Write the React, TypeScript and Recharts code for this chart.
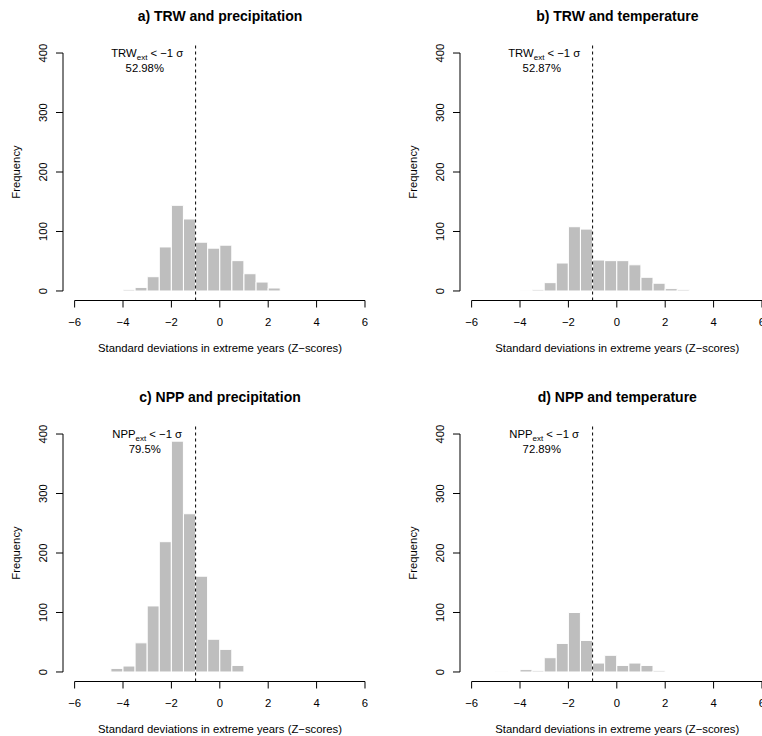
import React from "react";
import { BarChart, Bar, XAxis, YAxis, ReferenceLine, ReferenceDot } from "recharts";

// histogram bins of width 0.5 (mid points), from -5 to 3
const binMids = [-4.75, -4.25, -3.75, -3.25, -2.75, -2.25, -1.75, -1.25, -0.75, -0.25, 0.25, 0.75, 1.25, 1.75, 2.25, 2.75];

const trwPrecip = [0, 0, 2, 6, 24, 74, 144, 121, 82, 72, 77, 51, 29, 15, 5, 0];
const trwTemp = [0, 0, 1, 2, 14, 47, 108, 104, 52, 51, 51, 44, 23, 13, 4, 2];
const nppPrecip = [0, 6, 10, 49, 111, 219, 388, 266, 161, 55, 38, 11, 0, 0, 0, 0];
const nppTemp = [1, 0, 4, 2, 24, 48, 100, 53, 15, 28, 11, 15, 11, 2, 0, 0];

const titles = ["a) TRW and precipitation", "b) TRW and temperature", "c) NPP and precipitation", "d) NPP and temperature"];
const variables = ["TRW", "TRW", "NPP", "NPP"];
const shares = ["52.98%", "52.87%", "79.5%", "72.89%"];
const counts = [trwPrecip, trwTemp, nppPrecip, nppTemp];

const xTicks = [-6, -4, -2, 0, 2, 4, 6];
const yTicks = [0, 100, 200, 300, 400];
const threshold = -1;

const FONT = '"Liberation Sans", Arial, Helvetica, sans-serif';
const FS = 11.3;

// R style: xlim/ylim padded by 4%
const X_DOMAIN = [-6.48, 6.48];
const Y_DOMAIN = [-16, 416];

const PANEL_W = 381;
const PANEL_H = 368;
const panelPos = [
  { left: 0, top: 0 },
  { left: 397.3, top: 0 },
  { left: 0, top: 381.3 },
  { left: 397.3, top: 381.3 },
];

const fmtMinus = (v: number) => (v < 0 ? "\u2212" + Math.abs(v) : String(v));

const YTick = (props: any) => {
  const { x, y, payload } = props;
  return (
    <text
      x={x}
      y={y}
      transform={`rotate(-90, ${x}, ${y})`}
      textAnchor="middle"
      fontSize={FS}
      fontFamily={FONT}
      fill="#000"
    >
      {payload.value}
    </text>
  );
};

function Panel({ idx }: { idx: number }) {
  const data = binMids.map((mid, i) => ({ mid, count: counts[idx][i] }));
  const pos = panelPos[idx];
  const v = variables[idx];

  return (
    <div style={{ position: "absolute", left: pos.left, top: pos.top, width: PANEL_W, height: PANEL_H }}>
      <div
        style={{
          position: "absolute",
          left: 70,
          top: 9,
          width: 300,
          textAlign: "center",
          fontSize: 14,
          lineHeight: "14px",
          fontWeight: "bold",
        }}
      >
        {titles[idx]}
      </div>
      <div
        style={{
          position: "absolute",
          left: 16 - 100,
          top: 172 - 7,
          width: 200,
          textAlign: "center",
          fontSize: FS,
          lineHeight: "14px",
          transform: "rotate(-90deg)",
        }}
      >
        Frequency
      </div>
      <div
        style={{
          position: "absolute",
          left: 70,
          top: 348 - 7,
          width: 300,
          textAlign: "center",
          fontSize: FS,
          lineHeight: "14px",
          whiteSpace: "nowrap",
        }}
      >
        Standard deviations in extreme years (Z{"\u2212"}scores)
      </div>
      <BarChart
        width={PANEL_W}
        height={PANEL_H}
        data={data}
        barCategoryGap={0}
        margin={{ top: 43.5, right: 4.4, bottom: 0, left: 0 }}
        style={{ position: "absolute", left: 0, top: 0 }}
      >
        <XAxis
          type="number"
          dataKey="mid"
          domain={X_DOMAIN}
          allowDataOverflow
          ticks={xTicks}
          interval={0}
          height={67.5}
          axisLine={false}
          tickSize={7}
          tickMargin={10.5}
          tickLine={{ stroke: "#000" }}
          tick={{ fill: "#000", fontSize: FS, fontFamily: FONT }}
          tickFormatter={fmtMinus}
        />
        <YAxis
          type="number"
          domain={Y_DOMAIN}
          allowDataOverflow
          ticks={yTicks}
          interval={0}
          width={63}
          axisLine={false}
          tickSize={7}
          tickMargin={9}
          tickLine={{ stroke: "#000" }}
          tick={<YTick />}
        />
        <Bar dataKey="count" fill="#BEBEBE" stroke="#FFFFFF" strokeWidth={1} isAnimationActive={false} />
        <ReferenceLine
          segment={[{ x: X_DOMAIN[0], y: 0 }, { x: X_DOMAIN[0], y: 400 }]}
          stroke="#000"
          strokeWidth={1}
          ifOverflow="visible"
        />
        <ReferenceLine
          segment={[{ x: -6, y: Y_DOMAIN[0] }, { x: 6, y: Y_DOMAIN[0] }]}
          stroke="#000"
          strokeWidth={1}
          ifOverflow="visible"
        />
        <ReferenceLine x={threshold} stroke="#000" strokeWidth={1} strokeDasharray="3 3" />
        <ReferenceDot
          x={-3}
          y={400}
          r={1}
          fill="none"
          stroke="none"
          label={{
            content: (p: any) => (
              <text
                x={p.viewBox.x + p.viewBox.width / 2}
                y={p.viewBox.y + p.viewBox.height / 2 + 4}
                textAnchor="middle"
                fontSize={FS}
                fontFamily={FONT}
                fill="#000"
              >
                {v}
                <tspan fontSize={8} dy={3}>ext</tspan>
                <tspan dy={-3}>{" < \u22121 \u03c3"}</tspan>
              </text>
            ),
          }}
        />
        <ReferenceDot
          x={-3.1}
          y={375}
          r={1}
          fill="none"
          stroke="none"
          label={{
            content: (p: any) => (
              <text
                x={p.viewBox.x + p.viewBox.width / 2}
                y={p.viewBox.y + p.viewBox.height / 2 + 4}
                textAnchor="middle"
                fontSize={FS}
                fontFamily={FONT}
                fill="#000"
              >
                {shares[idx]}
              </text>
            ),
          }}
        />
      </BarChart>
    </div>
  );
}

export default function App() {
  return (
    <div
      style={{
        position: "absolute",
        left: 0,
        top: 0,
        width: 762,
        height: 736,
        overflow: "hidden",
        background: "#fff",
        fontFamily: FONT,
        color: "#000",
      }}
    >
      {[0, 1, 2, 3].map((i) => (
        <Panel key={i} idx={i} />
      ))}
    </div>
  );
}
